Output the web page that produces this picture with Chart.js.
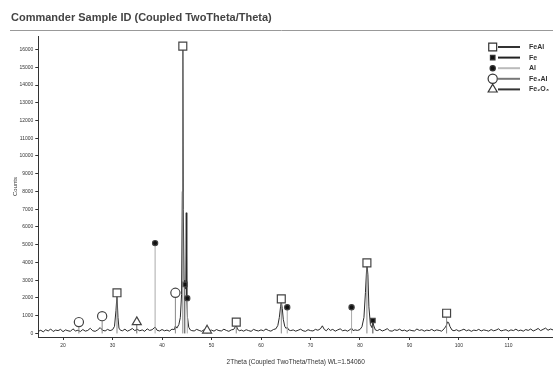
<!DOCTYPE html>
<html>
<head>
<title>Commander Sample ID (Coupled TwoTheta/Theta)</title>
<script src="https://cdn.jsdelivr.net/npm/chart.js"></script>
<style>
    html, body { margin: 0; padding: 0; background: #fff; }
    #wrap { width: 553px; height: 367px; }
</style>
</head>
<body>
<div id="wrap"><canvas id="xrd"></canvas></div>
<script>
// measured scan (2theta in degrees, counts)
const scanTheta = [
    15, 15.5, 16, 16.5, 17, 17.5, 18, 18.5, 19, 19.5,
    20, 20.5, 21, 21.5, 22, 22.5, 23, 23.5, 24, 24.5,
    25, 25.5, 26, 26.5, 27, 27.5, 28, 28.5, 29, 29.5,
    30, 30.4, 30.7, 30.9, 31.1, 31.3, 31.6, 32, 32.5, 33,
    33.5, 34, 34.5, 35, 35.5, 36, 36.5, 37, 37.5, 38,
    38.6, 39, 39.5, 40, 40.5, 41, 41.5, 42, 42.5, 42.7,
    43, 43.4, 43.7, 43.95, 44.1, 44.2, 44.3, 44.45, 44.6, 44.8,
    44.9, 45, 45.15, 45.4, 45.7, 46, 46.5, 47, 47.5, 48,
    48.5, 49, 49.5, 50, 50.5, 51, 51.5, 52, 52.5, 53,
    53.5, 54, 54.5, 54.8, 55, 55.3, 55.7, 56, 56.5, 57,
    57.5, 58, 58.5, 59, 59.5, 60, 60.5, 61, 61.5, 62,
    62.5, 63, 63.4, 63.7, 63.95, 64.1, 64.3, 64.5, 64.8, 65.1,
    65.3, 65.6, 66, 66.5, 67, 67.5, 68, 68.5, 69, 69.5,
    70, 70.5, 71, 71.5, 72, 72.4, 72.8, 73.2, 73.6, 74,
    74.5, 75, 75.5, 76, 76.5, 77, 77.5, 78, 78.3, 78.6,
    79, 79.5, 80, 80.4, 80.8, 81.1, 81.4, 81.6, 81.8, 82.1,
    82.4, 82.6, 82.8, 83.1, 83.5, 84, 84.5, 85, 85.5, 86,
    86.5, 87, 87.5, 88, 88.5, 89, 89.5, 90, 90.5, 91,
    91.5, 92, 92.5, 93, 93.5, 94, 94.5, 95, 95.5, 96,
    96.5, 97, 97.4, 97.7, 97.9, 98.2, 98.6, 99, 99.5, 100,
    100.5, 101, 101.5, 102, 102.5, 103, 103.5, 104, 104.5, 105,
    105.5, 106, 106.5, 107, 107.5, 108, 108.5, 109, 109.5, 110,
    110.5, 111, 111.5, 112, 112.5, 113, 113.5, 114, 114.5, 115,
    115.5, 116, 116.5, 117, 117.5, 118, 118.5, 119
];
const scanCounts = [
    120, 180, 90, 210, 140, 250, 110, 190, 160, 230,
    100, 200, 150, 120, 260, 140, 180, 110, 220, 130,
    170, 290, 150, 120, 200, 330, 180, 140, 230, 160,
    210, 400, 1300, 2150, 900, 300, 180, 150, 240, 130,
    190, 280, 160, 230, 150, 200, 120, 260, 170, 210,
    360, 180, 140, 220, 150, 190, 130, 240, 220, 420,
    300, 500, 900, 2200, 8000, 16000, 7000, 3000, 2750, 2500,
    6800, 2000, 900, 350, 200, 160, 140, 230, 170, 120,
    210, 260, 150, 190, 130, 220, 160, 140, 240, 170,
    120, 200, 230, 380, 450, 220, 150, 190, 130, 210,
    160, 120, 230, 170, 140, 200, 150, 250, 170, 130,
    220, 260, 450, 900, 1500, 1800, 1400, 800, 400, 280,
    350, 200, 160, 200, 130, 180, 240, 150, 120, 210,
    160, 140, 230, 180, 260, 430, 220, 150, 280, 170,
    230, 130, 200, 260, 150, 190, 130, 220, 300, 160,
    200, 170, 220, 380, 900, 2300, 3950, 3300, 1500, 500,
    330, 650, 420, 200, 160, 230, 140, 190, 270, 150,
    130, 210, 170, 240, 150, 190, 120, 200, 160, 140,
    250, 170, 210, 130, 190, 160, 230, 140, 200, 170,
    130, 260, 420, 650, 620, 380, 190, 150, 210, 130,
    180, 240, 150, 200, 120, 190, 160, 230, 140, 200,
    170, 130, 220, 150, 190, 260, 140, 180, 210, 130,
    200, 160, 240, 150, 190, 130, 220, 170, 250, 140,
    200, 280, 160, 230, 300, 180, 250, 200
];

// reference patterns (stick positions and heights)
const phaseNames = ['FeAl', 'Fe', 'Al', 'Fe₃Al', 'Fe₂O₃'];
const feAlTheta = [30.9, 44.2, 55.0, 64.1, 81.4, 97.5];
const feAlCounts = [2290, 16190, 640, 1950, 3980, 1140];
const feTheta = [44.6, 82.6];
const feCounts = [2760, 730];
const alTheta = [38.6, 45.1, 65.3, 78.3];
const alCounts = [5090, 1990, 1480, 1480];
const fe3AlTheta = [23.2, 27.9, 42.7];
const fe3AlCounts = [640, 975, 2290];
const fe2O3Theta = [34.9, 49.1];
const fe2O3Counts = [640, 170];

// axis ticks
const xTicks = [20, 30, 40, 50, 60, 70, 80, 90, 100, 110];
const yTicks = [0, 1000, 2000, 3000, 4000, 5000, 6000, 7000, 8000, 9000,
    10000, 11000, 12000, 13000, 14000, 15000, 16000];

// looks of each phase: marker, stick colour, legend line colour
const phaseStyles = [
    { marker: 'rect', size: 5.6, fill: '#fff', stick: '#888', legend: '#333' },
    { marker: 'rect', size: 3.2, fill: '#111', stick: '#444', legend: '#222' },
    { marker: 'circle', size: 2.6, fill: '#111', stick: '#aaa', legend: '#bbb' },
    { marker: 'circle', size: 4.6, fill: '#fff', stick: '#888', legend: '#777' },
    { marker: 'triangle', size: 5.2, fill: '#fff', stick: '#666', legend: '#333' }
];
const phaseData = [
    [feAlTheta, feAlCounts],
    [feTheta, feCounts],
    [alTheta, alCounts],
    [fe3AlTheta, fe3AlCounts],
    [fe2O3Theta, fe2O3Counts]
];

function sticks(theta, counts) {
    const pts = [];
    theta.forEach((t, i) => {
        pts.push({ x: t, y: 0 }, { x: t, y: counts[i] }, { x: t, y: null });
    });
    return pts;
}

Chart.defaults.font.family = '"Liberation Sans", Arial, sans-serif';
Chart.defaults.color = '#333';

const datasets = [{
    label: 'scan',
    data: scanTheta.map((t, i) => ({ x: t, y: scanCounts[i] })),
    borderColor: '#2a2a2a',
    borderWidth: 1,
    pointRadius: 0,
    order: 10
}];

phaseData.forEach((pd, i) => {
    const st = phaseStyles[i];
    datasets.push({
        label: phaseNames[i],
        data: sticks(pd[0], pd[1]),
        borderColor: st.stick,
        borderWidth: 1,
        spanGaps: false,
        pointStyle: st.marker,
        pointRadius: ctx => (ctx.raw && ctx.raw.y > 0) ? st.size : 0,
        pointBackgroundColor: st.fill,
        pointBorderColor: '#444',
        pointBorderWidth: 1.2,
        order: 1
    });
});

// title rule + in-plot legend (marker, line, name)
const decor = {
    id: 'decor',
    afterDraw(chart) {
        const ctx = chart.ctx;
        ctx.save();
        ctx.strokeStyle = '#999';
        ctx.lineWidth = 1;
        ctx.beginPath();
        ctx.moveTo(10, 30.5);
        ctx.lineTo(chart.width, 30.5);
        ctx.stroke();

        phaseNames.forEach((name, i) => {
            const st = phaseStyles[i];
            const y = 47 + i * 10.6;
            const mx = 492.7;
            ctx.strokeStyle = st.legend;
            ctx.lineWidth = 2;
            ctx.beginPath();
            ctx.moveTo(498, y);
            ctx.lineTo(520, y);
            ctx.stroke();

            ctx.fillStyle = st.fill;
            ctx.strokeStyle = '#333';
            ctx.lineWidth = 1.2;
            const r = st.size;
            ctx.beginPath();
            if (st.marker === 'rect') {
                const h = r * Math.SQRT1_2;
                ctx.rect(mx - h, y - h, 2 * h, 2 * h);
            } else if (st.marker === 'circle') {
                ctx.arc(mx, y, r, 0, Math.PI * 2);
            } else {
                ctx.moveTo(mx, y - r);
                ctx.lineTo(mx + r * 0.87, y + r * 0.5);
                ctx.lineTo(mx - r * 0.87, y + r * 0.5);
                ctx.closePath();
            }
            ctx.fill();
            ctx.stroke();

            ctx.fillStyle = '#333';
            ctx.font = 'bold 7px "Liberation Sans", Arial, sans-serif';
            ctx.textBaseline = 'middle';
            ctx.textAlign = 'left';
            ctx.fillText(name, 529, y);
        });
        ctx.restore();
    }
};

const config = {
    type: 'line',
    data: { datasets: datasets },
    options: {
        responsive: true,
        maintainAspectRatio: false,
        animation: false,
        events: [],
        layout: { padding: { left: 11, right: 0, top: 0, bottom: 0 } },
        plugins: {
            legend: { display: false },
            tooltip: { enabled: false },
            title: {
                display: true,
                text: 'Commander Sample ID (Coupled TwoTheta/Theta)',
                align: 'start',
                color: '#444',
                font: { size: 11, weight: 'bold' },
                padding: { top: 11, bottom: 12 }
            }
        },
        scales: {
            x: {
                type: 'linear',
                min: 15,
                max: 119,
                afterFit: s => { s.height = 30; },
                afterBuildTicks: s => { s.ticks = xTicks.map(v => ({ value: v })); },
                ticks: {
                    autoSkip: false,
                    maxRotation: 0,
                    padding: 3,
                    color: '#333',
                    font: { size: 5 },
                    callback: v => String(v)
                },
                grid: { display: true, drawOnChartArea: false, tickLength: 3, color: '#333' },
                border: { color: '#333' },
                title: {
                    display: true,
                    text: '2Theta (Coupled TwoTheta/Theta) WL=1.54060',
                    color: '#333',
                    font: { size: 6.5 },
                    padding: { top: 0, bottom: 1 }
                }
            },
            y: {
                type: 'linear',
                min: -200,
                max: 16750,
                afterFit: s => { s.width = 27.3; },
                afterBuildTicks: s => { s.ticks = yTicks.map(v => ({ value: v })); },
                ticks: {
                    autoSkip: false,
                    padding: 2,
                    color: '#333',
                    font: { size: 5 },
                    callback: v => String(v)
                },
                grid: { display: true, drawOnChartArea: false, tickLength: 3, color: '#333' },
                border: { color: '#333' },
                title: {
                    display: true,
                    text: 'Counts',
                    color: '#333',
                    font: { size: 6 },
                    padding: { top: 1, bottom: 0 }
                }
            }
        }
    },
    plugins: [decor]
};

const myChart = new Chart(document.getElementById('xrd'), config);
</script>
</body>
</html>
